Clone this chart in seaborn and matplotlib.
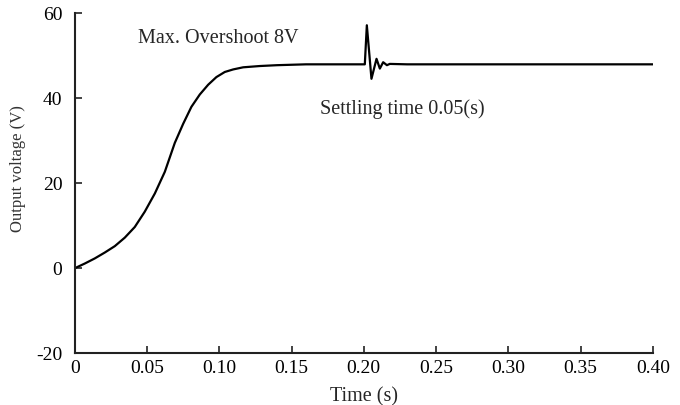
import matplotlib
matplotlib.use("Agg")
import matplotlib.pyplot as plt
import seaborn as sns
import pandas as pd

# data
time_s = [0.0, 0.0069, 0.0138, 0.0208, 0.0277, 0.0346, 0.0415, 0.0484, 0.0554,
          0.0623, 0.0692, 0.0750, 0.0807, 0.0865, 0.0923, 0.0980, 0.1038, 0.1096,
          0.1165, 0.1280, 0.1400, 0.1600, 0.2007, 0.2021, 0.2053, 0.2088, 0.2111,
          0.2134, 0.2160, 0.2180, 0.2300, 0.3000, 0.4000]
voltage_v = [0.0, 1.1, 2.3, 3.7, 5.2, 7.2, 9.7, 13.3, 17.6,
             22.7, 29.5, 34.0, 38.0, 40.9, 43.2, 45.0, 46.2, 46.8,
             47.3, 47.6, 47.8, 48.0, 48.0, 57.2, 44.6, 49.3, 47.0,
             48.5, 47.8, 48.1, 48.0, 48.0, 48.0]
x_ticks = [0, 0.05, 0.10, 0.15, 0.20, 0.25, 0.30, 0.35, 0.40]
x_tick_labels = ["0", "0.05", "0.10", "0.15", "0.20", "0.25", "0.30", "0.35", "0.40"]
y_ticks = [-20, 0, 20, 40, 60]
note_overshoot = "Max. Overshoot 8V"
note_settling = "Settling time 0.05(s)"

df = pd.DataFrame({"t": time_s, "v": voltage_v})

sns.set_theme(style="ticks")
plt.rcParams["font.family"] = ["Liberation Serif", "DejaVu Serif"]
plt.rcParams["axes.unicode_minus"] = False

fig = plt.figure(figsize=(6.8, 4.05), dpi=100)
ax = fig.add_axes([0.110, 0.128, 0.850, 0.839])

sns.lineplot(data=df, x="t", y="v", ax=ax, color="black", linewidth=1.6,
             estimator=None, sort=False)

ax.set_xlim(0, 0.40)
ax.set_ylim(-20, 60)
ax.set_xticks(x_ticks)
ax.set_xticklabels(x_tick_labels)
ax.set_yticks(y_ticks)

for s in ["top", "right"]:
    ax.spines[s].set_visible(False)
for s in ["left", "bottom"]:
    ax.spines[s].set_linewidth(1.5)
    ax.spines[s].set_color("#222222")

ax.tick_params(axis="both", direction="in", length=5, width=1.2, colors="#222222",
               labelsize=14, labelcolor="black")
ax.tick_params(axis="y", pad=9)
ax.tick_params(axis="x", pad=5)

ax.set_xlabel("Time (s)", fontsize=14.5, labelpad=7)
ax.set_ylabel("Output voltage (V)", fontsize=12, color="#333333")
ax.yaxis.set_label_coords(-0.085, 0.543)

ax.text(0.0436, 54.0, note_overshoot, fontsize=14.5, ha="left", va="center")
ax.text(0.1696, 37.5, note_settling, fontsize=14.5, ha="left", va="center")

fig.savefig("out.png", dpi=100)
